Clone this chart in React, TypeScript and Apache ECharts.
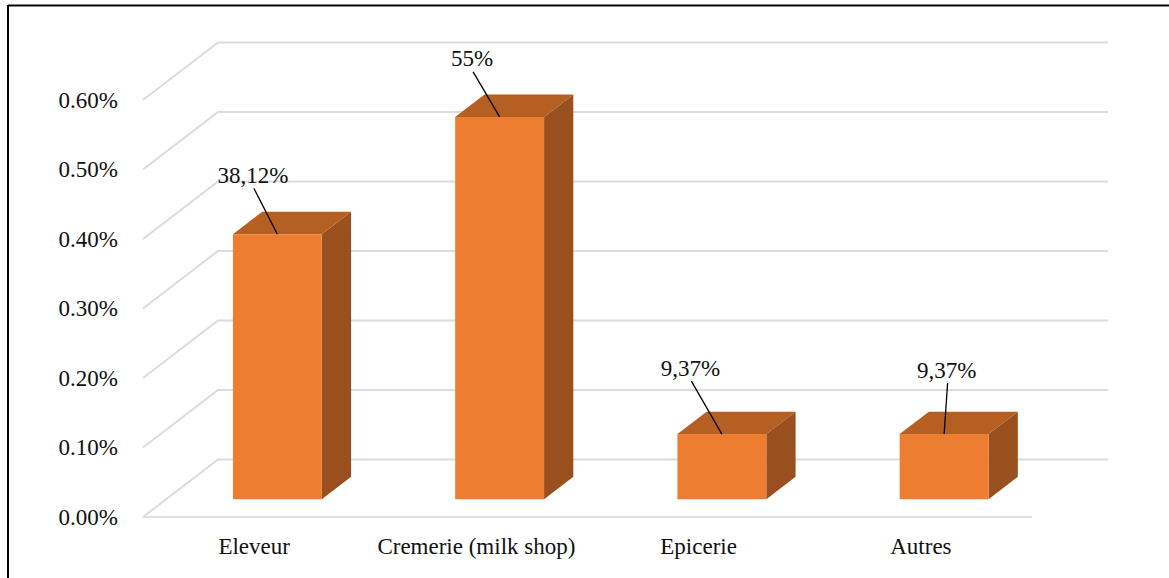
import React, { useEffect, useRef } from "react";
import * as echarts from "echarts";

const categories = ["Eleveur", "Cremerie (milk shop)", "Epicerie", "Autres"];
const values = [0.3812, 0.55, 0.0937, 0.0937];
const valueLabels = ["38,12%", "55%", "9,37%", "9,37%"];
const yTicks = [0, 0.1, 0.2, 0.3, 0.4, 0.5, 0.6];

// layout (not data): callout offsets relative to bar top centre
const labelOffsets = [
  [-24.5, -59],
  [-27.5, -58],
  [-31.5, -66],
  [2.5, -64],
];

const DEPTH_X = 75;
const DEPTH_Y = -57.5;
const BAR_FRONT = 0.31;
const BAR_DEPTH = 0.39;
const FONT = "Liberation Serif";
const FS = 23;

export default function App() {
  const ref = useRef<HTMLDivElement>(null);
  useEffect(() => {
    document.body.style.margin = "0";
    const chart = echarts.init(ref.current!, null, { renderer: "svg" });
    const option: any = {
      animation: false,
      backgroundColor: "#ffffff",
      textStyle: { fontFamily: FONT },
      grid: { left: 143, right: 137, top: 100, bottom: 61 },
      xAxis: {
        type: "category",
        data: categories,
        axisLine: { show: false },
        axisTick: { show: false },
        axisLabel: { color: "#111", fontFamily: FONT, fontSize: FS, margin: 18, interval: 0 },
        splitLine: { show: false },
      },
      yAxis: {
        type: "value",
        min: 0,
        max: 0.6,
        interval: 0.1,
        axisLine: { show: false },
        axisTick: { show: false },
        splitLine: { show: false },
        axisLabel: {
          color: "#111",
          fontFamily: FONT,
          fontSize: FS,
          margin: 25,
          formatter: (v: number) => v.toFixed(2) + "%",
        },
      },
      graphic: [
        { type: "line", shape: { x1: 8, y1: 5.5, x2: 1169, y2: 5.5 }, style: { stroke: "#000", lineWidth: 2 } },
        { type: "line", shape: { x1: 8, y1: 5, x2: 8, y2: 578 }, style: { stroke: "#000", lineWidth: 2 } },
      ],
      series: [
        {
          type: "custom",
          silent: true,
          z: 1,
          data: yTicks.map((t) => [0, t]),
          renderItem: (params: any, api: any) => {
            const cs = params.coordSys;
            const v = api.value(1);
            const y = api.coord([0, v])[1];
            const gx = cs.x;
            const gw = cs.width;
            const children: any[] = [
              {
                type: "polyline",
                shape: {
                  points: [
                    [gx, y],
                    [gx + DEPTH_X, y + DEPTH_Y],
                    [gx + gw + DEPTH_X + 1, y + DEPTH_Y],
                  ],
                },
                style: { stroke: "#dcdcdc", lineWidth: 2, fill: null },
              },
            ];
            if (v === 0) {
              children.push({
                type: "line",
                shape: { x1: gx, y1: y, x2: gx + gw, y2: y },
                style: { stroke: "#dde1e6", lineWidth: 2 },
              });
            }
            return { type: "group", children };
          },
        },
        {
          type: "custom",
          z: 2,
          data: values.map((v, i) => [i, v]),
          renderItem: (params: any, api: any) => {
            const i = api.value(0);
            const v = api.value(1);
            const top = api.coord([i, v]);
            const base = api.coord([i, 0]);
            const bw = api.size([1, 0])[0] * 0.4;
            const fx = BAR_FRONT * DEPTH_X;
            const fy = BAR_FRONT * DEPTH_Y;
            const dx = BAR_DEPTH * DEPTH_X;
            const dy = BAR_DEPTH * DEPTH_Y;
            const cx = top[0] + fx;
            const x0 = cx - bw / 2;
            const x1 = cx + bw / 2;
            const yt = top[1] + fy;
            const yb = base[1] + fy;
            const off = labelOffsets[params.dataIndex];
            const tx = cx + off[0];
            const ty = yt + off[1];
            return {
              type: "group",
              children: [
                {
                  type: "polygon",
                  shape: { points: [[x1, yt], [x1 + dx, yt + dy], [x1 + dx, yb + dy], [x1, yb]] },
                  style: { fill: "#9a501e" },
                },
                {
                  type: "polygon",
                  shape: { points: [[x0, yt], [x0 + dx, yt + dy], [x1 + dx, yt + dy], [x1, yt]] },
                  style: { fill: "#b55f23" },
                },
                {
                  type: "rect",
                  shape: { x: x0, y: yt, width: bw, height: yb - yt },
                  style: { fill: "#ed7d31" },
                },
                {
                  type: "line",
                  shape: { x1: tx + 1, y1: ty + 13, x2: cx, y2: yt },
                  style: { stroke: "#000", lineWidth: 1.3 },
                },
                {
                  type: "text",
                  style: {
                    text: valueLabels[params.dataIndex],
                    x: tx,
                    y: ty,
                    align: "center",
                    verticalAlign: "middle",
                    fill: "#111",
                    fontFamily: FONT,
                    fontSize: FS,
                  },
                },
              ],
            };
          },
        },
      ],
    };
    chart.setOption(option);
    return () => chart.dispose();
  }, []);
  return <div ref={ref} style={{ width: 1169, height: 578 }} />;
}
